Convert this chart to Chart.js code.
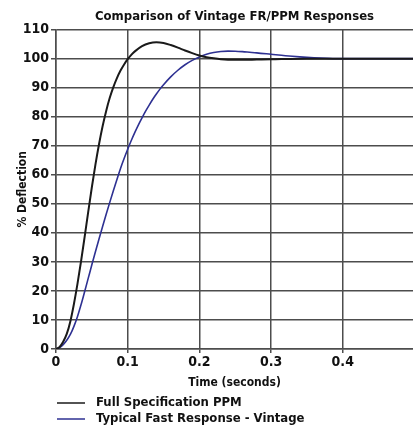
<!DOCTYPE html>
<html>
<head>
<meta charset="utf-8">
<style>
  html, body { margin: 0; padding: 0; background: #fff; }
  #wrap { width: 413px; height: 431px; }
</style>
<script src="https://cdn.jsdelivr.net/npm/chart.js@4/dist/chart.umd.min.js"></script>
</head>
<body>
<div id="wrap"><canvas id="myChart" width="413" height="431"></canvas></div>
<script>
var ppmTime = [0, 0.005, 0.01, 0.015, 0.02, 0.025, 0.03, 0.035, 0.04, 0.045, 0.05, 0.055, 0.06, 0.065, 0.07, 0.075, 0.08, 0.085, 0.09, 0.095, 0.1, 0.105, 0.11,
    0.12, 0.13, 0.14, 0.15, 0.16, 0.17, 0.18, 0.19, 0.2, 0.21, 0.22, 0.23, 0.24, 0.26, 0.28, 0.3, 0.35, 0.4, 0.5];
var ppmValue = [0, 0.7, 2.5, 5.2, 9.5, 15.5, 22.5, 30.3, 38.7, 47.3, 55.7, 63.5, 70.5, 76.7, 82, 86.5, 90.2, 93.3, 95.9, 98, 99.8, 101.3, 102.5,
    104.3, 105.3, 105.65, 105.4, 104.7, 103.8, 102.8, 101.9, 101.1, 100.5, 100.1, 99.8, 99.65, 99.6, 99.7, 99.8, 100, 100, 100];
var fastTime = [0, 0.005, 0.01, 0.015, 0.02, 0.025, 0.03, 0.035, 0.04, 0.045, 0.05, 0.055, 0.06, 0.065, 0.07, 0.075, 0.08, 0.085, 0.09, 0.095, 0.1,
    0.105, 0.11, 0.115, 0.12, 0.125, 0.13, 0.135, 0.14, 0.145, 0.15, 0.16, 0.17, 0.18, 0.19, 0.2, 0.21, 0.22, 0.23, 0.24, 0.25, 0.26, 0.27, 0.28,
    0.3, 0.32, 0.34, 0.36, 0.38, 0.4, 0.5];
var fastValue = [0, 0.5, 1.5, 3, 5, 7.8, 11.2, 15.3, 19.8, 24.4, 29, 33.5, 37.9, 42.2, 46.4, 50.5, 54.5, 58.4, 62.2, 65.6, 68.8,
    71.8, 74.6, 77.2, 79.6, 81.9, 84, 86, 87.8, 89.5, 91, 93.7, 96, 97.9, 99.4, 100.6, 101.5, 102.1, 102.45, 102.6, 102.55, 102.4, 102.2, 102,
    101.5, 101, 100.6, 100.3, 100.1, 100, 100];
var seriesNames = ['Full Specification PPM', 'Typical Fast Response - Vintage'];
var xTicks = [0, 0.1, 0.2, 0.3, 0.4];
var yTicks = [0, 10, 20, 30, 40, 50, 60, 70, 80, 90, 100, 110];

function toPoints(xs, ys) {
    return xs.map(function (x, i) { return { x: x, y: ys[i] }; });
}

var fontFamily = '"Liberation Sans Narrow", "DejaVu Sans Condensed", "Roboto", sans-serif';
var gridColor = '#4d4d4d';

// legend drawn by hand: two stacked rows under the axis title
var stackedLegend = {
    id: 'stackedLegend',
    afterDraw: function (chart) {
        var c = chart.ctx;
        c.save();
        c.font = 'bold 13px ' + fontFamily;
        c.textBaseline = 'middle';
        chart.data.datasets.forEach(function (ds, i) {
            var y = 403 + i * 16;
            c.strokeStyle = ds.borderColor;
            c.lineWidth = 1.5;
            c.beginPath();
            c.moveTo(57, y);
            c.lineTo(85, y);
            c.stroke();
            c.fillStyle = '#111';
            c.fillText(ds.label, 96, y);
        });
        c.restore();
    }
};

var ctx = document.getElementById('myChart').getContext('2d');
var myChart = new Chart(ctx, {
    type: 'line',
    data: {
        datasets: [{
            label: seriesNames[0],
            data: toPoints(ppmTime, ppmValue),
            borderColor: '#1a1a1a',
            borderWidth: 2,
            pointRadius: 0,
            cubicInterpolationMode: 'monotone'
        }, {
            label: seriesNames[1],
            data: toPoints(fastTime, fastValue),
            borderColor: '#2e3192',
            borderWidth: 1.6,
            pointRadius: 0,
            cubicInterpolationMode: 'monotone'
        }]
    },
    options: {
        responsive: false,
        animation: false,
        layout: {
            padding: { top: 0, right: 0, bottom: 41, left: 0 }
        },
        plugins: {
            legend: { display: false },
            tooltip: { enabled: false },
            title: {
                display: true,
                fullSize: false,
                text: 'Comparison of Vintage FR/PPM Responses',
                color: '#111',
                font: { family: fontFamily, size: 13, weight: 'bold' },
                padding: { top: 9, bottom: 5 }
            }
        },
        scales: {
            x: {
                type: 'linear',
                min: 0,
                max: 0.498,
                afterFit: function (scale) { scale.height = 41; },
                afterBuildTicks: function (scale) {
                    scale.ticks = xTicks.map(function (v) { return { value: v }; });
                },
                ticks: {
                    color: '#111',
                    padding: 1,
                    font: { family: fontFamily, size: 14, weight: 'bold' },
                    callback: function (v) { return v === 0 ? '0' : v.toFixed(1); }
                },
                grid: { color: gridColor, lineWidth: 1.5, tickLength: 4 },
                border: { color: gridColor, width: 1.5 },
                title: {
                    display: true,
                    text: 'Time (seconds)',
                    color: '#111',
                    padding: { top: 0, bottom: 0 },
                    font: { family: fontFamily, size: 12, weight: 'bold' }
                }
            },
            y: {
                min: 0,
                max: 110,
                afterFit: function (scale) { scale.width = 56; },
                afterBuildTicks: function (scale) {
                    scale.ticks = yTicks.map(function (v) { return { value: v }; });
                },
                ticks: {
                    color: '#111',
                    padding: 2,
                    font: { family: fontFamily, size: 14, weight: 'bold' }
                },
                grid: { color: gridColor, lineWidth: 1.5, tickLength: 5 },
                border: { color: gridColor, width: 1.5 },
                title: {
                    display: true,
                    text: '% Deflection',
                    color: '#111',
                    padding: { top: 16, bottom: 0 },
                    font: { family: fontFamily, size: 12, weight: 'bold' }
                }
            }
        }
    },
    plugins: [stackedLegend]
});
</script>
</body>
</html>
